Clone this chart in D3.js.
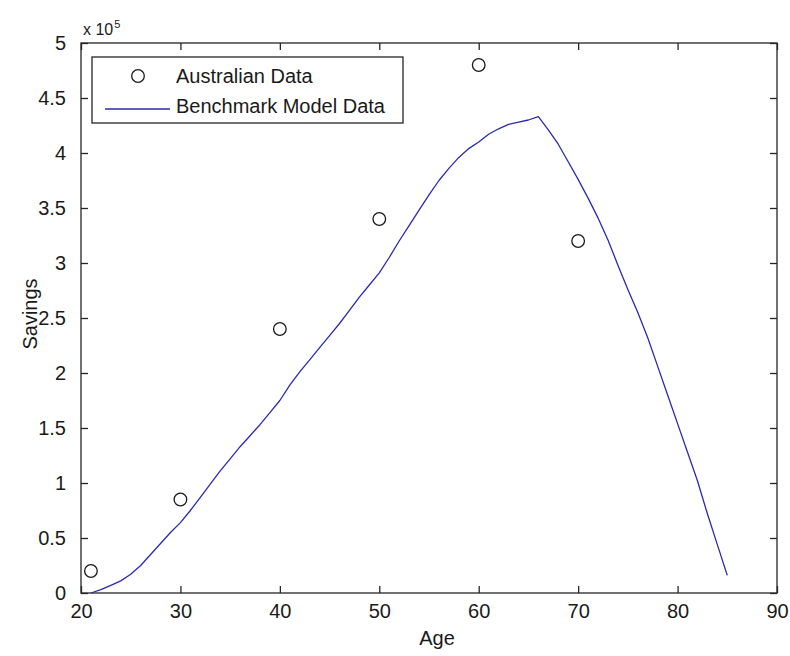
<!DOCTYPE html>
<html>
<head>
<meta charset="utf-8">
<script src="https://cdn.jsdelivr.net/npm/d3@7"></script>
<style>
  html, body { margin: 0; padding: 0; background: #fff; }
  svg { display: block; }
  text { font-family: "Liberation Sans", Arial, Helvetica, sans-serif; fill: #1a1a1a; }
</style>
</head>
<body>
<svg id="chart" width="790" height="656"></svg>
<script>
// ---- data (savings in units of 1e5) ----
const australianAges = [21, 30, 40, 50, 60, 70];
const australianSavings = [0.2, 0.85, 2.4, 3.4, 4.8, 3.2];

const modelAges = [21,22,23,24,25,26,27,28,29,30,31,32,33,34,35,36,37,38,39,40,
  41,42,43,44,45,46,47,48,49,50,51,52,53,54,55,56,57,58,59,60,
  61,62,63,64,65,66,67,68,69,70,71,72,73,74,75,76,77,78,79,80,
  81,82,83,84,85];
const modelSavings = [0.00,0.03,0.07,0.11,0.17,0.25,0.35,0.45,0.55,0.64,
  0.75,0.87,0.99,1.11,1.22,1.33,1.43,1.53,1.64,1.75,
  1.89,2.01,2.12,2.23,2.34,2.45,2.57,2.69,2.80,2.91,
  3.05,3.20,3.34,3.48,3.62,3.75,3.86,3.96,4.04,4.10,
  4.17,4.22,4.26,4.28,4.30,4.33,4.21,4.08,3.92,3.76,
  3.59,3.41,3.21,2.98,2.76,2.55,2.32,2.06,1.80,1.54,
  1.28,1.02,0.72,0.44,0.16];

const xTicks = [20, 30, 40, 50, 60, 70, 80, 90];
const yTicks = [0, 0.5, 1, 1.5, 2, 2.5, 3, 3.5, 4, 4.5, 5];
const legendLabels = ["Australian Data", "Benchmark Model Data"];
const xLabel = "Age";
const yLabel = "Savings";

// ---- layout ----
const svg = d3.select("#chart");
const L = 81, R = 777, T = 43, B = 593;
const x = d3.scaleLinear().domain([20, 90]).range([L, R]);
const y = d3.scaleLinear().domain([0, 5]).range([B, T]);
const axisColor = "#262626";
const fontSize = 20;

// frame
svg.append("rect").attr("x", L).attr("y", T).attr("width", R - L).attr("height", B - T)
  .attr("fill", "#fff").attr("stroke", axisColor).attr("stroke-width", 1.3);

// axes (ticks inward)
const tickLen = 7;
const xAxisB = d3.axisBottom(x).tickValues(xTicks).tickSize(-tickLen).tickPadding(tickLen + 6).tickFormat(d3.format("d"));
const xAxisT = d3.axisTop(x).tickValues(xTicks).tickSize(-tickLen).tickFormat("");
const yAxisL = d3.axisLeft(y).tickValues(yTicks).tickSize(-tickLen).tickPadding(tickLen + 8).tickFormat(d => String(d));
const yAxisR = d3.axisRight(y).tickValues(yTicks).tickSize(-tickLen).tickFormat("");

function styleAxis(g) {
  g.select(".domain").remove();
  g.selectAll(".tick line").attr("stroke", axisColor).attr("stroke-width", 1.3);
  g.selectAll(".tick text").attr("font-size", fontSize).attr("fill", "#1a1a1a")
    .style("font-family", '"Liberation Sans", Arial, sans-serif');
}
svg.append("g").attr("transform", `translate(0,${B})`).call(xAxisB).call(styleAxis)
  .selectAll(".tick text").attr("dy", "0.6em");
svg.append("g").attr("transform", `translate(0,${T})`).call(xAxisT).call(styleAxis);
svg.append("g").attr("transform", `translate(${L},0)`).call(yAxisL).call(styleAxis);
svg.append("g").attr("transform", `translate(${R},0)`).call(yAxisR).call(styleAxis);

// exponent label
const expo = svg.append("text").attr("x", L + 2).attr("y", 35).attr("font-size", 16);
expo.append("tspan").text("x 10");
expo.append("tspan").attr("font-size", 11).attr("dy", -7).attr("dx", 1).text("5");

// axis labels
svg.append("text").attr("x", (L + R) / 2 + 8).attr("y", 645).attr("text-anchor", "middle")
  .attr("font-size", fontSize).text(xLabel);
svg.append("text").attr("transform", `translate(37,${(T + B) / 2 - 4}) rotate(-90)`)
  .attr("text-anchor", "middle").attr("font-size", fontSize).text(yLabel);

// model line
const line = d3.line().x((d, i) => x(modelAges[i])).y(d => y(d));
svg.append("path").datum(modelSavings).attr("d", line)
  .attr("fill", "none").attr("stroke", "#2a2ab0").attr("stroke-width", 1.3)
  .attr("stroke-linejoin", "round");

// australian data
svg.append("g").selectAll("circle").data(australianSavings).join("circle")
  .attr("cx", (d, i) => x(australianAges[i])).attr("cy", d => y(d)).attr("r", 6.3)
  .attr("fill", "none").attr("stroke", "#1a1a1a").attr("stroke-width", 1.3);

// legend
const lg = svg.append("g");
lg.append("rect").attr("x", 92).attr("y", 57).attr("width", 311).attr("height", 66)
  .attr("fill", "#fff").attr("stroke", axisColor).attr("stroke-width", 1.3);
lg.append("circle").attr("cx", 138).attr("cy", 76).attr("r", 6.3)
  .attr("fill", "none").attr("stroke", "#1a1a1a").attr("stroke-width", 1.3);
lg.append("line").attr("x1", 105).attr("x2", 170).attr("y1", 109).attr("y2", 109)
  .attr("stroke", "#2a2ab0").attr("stroke-width", 1.3);
lg.append("text").attr("x", 176).attr("y", 83).attr("font-size", fontSize).text(legendLabels[0]);
lg.append("text").attr("x", 176).attr("y", 113).attr("font-size", fontSize).text(legendLabels[1]);
</script>
</body>
</html>
